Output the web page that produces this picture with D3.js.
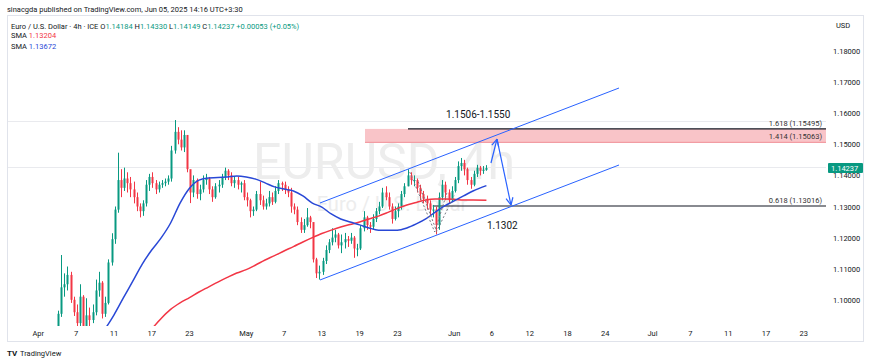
<!DOCTYPE html>
<html>
<head>
<meta charset="utf-8">
<script src="https://cdn.jsdelivr.net/npm/d3@7"></script>
<style>
  body { margin: 0; background: #fff; }
  svg { display: block; font-family: Roboto, "Liberation Sans", sans-serif; }
</style>
</head>
<body>
<svg id="chart" width="870" height="363"></svg>
<script>
// Preis-Ticks der rechten Achse
const priceTicks = [1.10, 1.11, 1.12, 1.13, 1.14, 1.15, 1.16, 1.17, 1.18];

// Zeitachse in Handelstagen ab 1. April
const timeTickDays = [0, 4, 8, 12, 16, 22, 26, 30, 34, 38, 44, 48, 52, 56, 60, 65, 69, 73, 77, 81];
const timeTickLabels = ["Apr", "7", "11", "17", "23", "May", "7", "13", "19", "23", "Jun", "6", "12", "18", "24", "Jul", "7", "11", "17", "23"];

// Kerzen (8h): pro Handelstag drei Kerzen [close, high, low], open = vorheriger close
const firstOpen = 1.0850;
const candleDays = [2, 3, 4, 5, 6, 7, 8, 9, 10, 11, 12, 13, 14, 15, 16, 17, 18, 19, 20, 21, 22, 23, 24,
  25, 26, 27, 28, 29, 30, 31, 32, 33, 34, 35, 36, 37, 38, 39, 40, 41, 42, 43, 44, 45, 46, 47];
const candleBars = [
  [[1.0955, 1.0965, 1.0845], [1.1040, 1.1144, 1.0945], [1.1050, 1.1085, 1.1010]],
  [[1.1080, 1.1107, 1.1030], [1.1000, 1.1090, 1.0990], [1.0960, 1.1010, 1.0948]],
  [[1.0925, 1.0985, 1.0880], [1.1010, 1.1050, 1.0915], [1.0915, 1.1015, 1.0900]],
  [[1.0950, 1.1005, 1.0905], [1.0935, 1.0975, 1.0895], [1.0960, 1.0985, 1.0925]],
  [[1.1030, 1.1065, 1.0950], [1.1055, 1.1090, 1.1010], [1.0955, 1.1060, 1.0940]],
  [[1.0990, 1.1010, 1.0945], [1.1120, 1.1130, 1.0985], [1.1195, 1.1214, 1.1110]],
  [[1.1290, 1.1300, 1.1180], [1.1385, 1.1473, 1.1280], [1.1360, 1.1420, 1.1330]],
  [[1.1390, 1.1425, 1.1350], [1.1375, 1.1410, 1.1345], [1.1355, 1.1395, 1.1330]],
  [[1.1330, 1.1380, 1.1310], [1.1300, 1.1345, 1.1285], [1.1285, 1.1310, 1.1265]],
  [[1.1310, 1.1320, 1.1270], [1.1370, 1.1385, 1.1300], [1.1395, 1.1405, 1.1350]],
  [[1.1375, 1.1410, 1.1360], [1.1355, 1.1385, 1.1340], [1.1370, 1.1380, 1.1345]],
  [[1.1375, 1.1385, 1.1360], [1.1380, 1.1390, 1.1365], [1.1390, 1.1400, 1.1370]],
  [[1.1480, 1.1495, 1.1380], [1.1540, 1.1578, 1.1470], [1.1515, 1.1555, 1.1500]],
  [[1.1490, 1.1545, 1.1480], [1.1530, 1.1545, 1.1475], [1.1420, 1.1530, 1.1410]],
  [[1.1345, 1.1410, 1.1311], [1.1385, 1.1400, 1.1330], [1.1340, 1.1390, 1.1325]],
  [[1.1355, 1.1370, 1.1320], [1.1385, 1.1400, 1.1345], [1.1390, 1.1405, 1.1370]],
  [[1.1355, 1.1395, 1.1340], [1.1330, 1.1365, 1.1315], [1.1365, 1.1375, 1.1325]],
  [[1.1370, 1.1385, 1.1345], [1.1395, 1.1405, 1.1360], [1.1415, 1.1425, 1.1385]],
  [[1.1400, 1.1420, 1.1385], [1.1375, 1.1410, 1.1365], [1.1385, 1.1395, 1.1360]],
  [[1.1370, 1.1395, 1.1355], [1.1375, 1.1380, 1.1345], [1.1330, 1.1385, 1.1320]],
  [[1.1320, 1.1345, 1.1300], [1.1285, 1.1325, 1.1265], [1.1290, 1.1300, 1.1270]],
  [[1.1340, 1.1350, 1.1285], [1.1320, 1.1380, 1.1305], [1.1300, 1.1335, 1.1290]],
  [[1.1310, 1.1325, 1.1290], [1.1330, 1.1350, 1.1300], [1.1315, 1.1345, 1.1305]],
  [[1.1350, 1.1365, 1.1310], [1.1375, 1.1385, 1.1340], [1.1370, 1.1380, 1.1350]],
  [[1.1355, 1.1380, 1.1340], [1.1345, 1.1365, 1.1330], [1.1300, 1.1360, 1.1280]],
  [[1.1290, 1.1310, 1.1275], [1.1250, 1.1300, 1.1240], [1.1225, 1.1265, 1.1215]],
  [[1.1240, 1.1260, 1.1215], [1.1265, 1.1295, 1.1235], [1.1250, 1.1270, 1.1230]],
  [[1.1130, 1.1240, 1.1120], [1.1085, 1.1135, 1.1070], [1.1090, 1.1110, 1.1065]],
  [[1.1125, 1.1135, 1.1080], [1.1160, 1.1175, 1.1115], [1.1185, 1.1195, 1.1150]],
  [[1.1200, 1.1230, 1.1175], [1.1210, 1.1225, 1.1185], [1.1175, 1.1215, 1.1165]],
  [[1.1185, 1.1210, 1.1150], [1.1195, 1.1215, 1.1165], [1.1190, 1.1205, 1.1170]],
  [[1.1200, 1.1215, 1.1180], [1.1165, 1.1205, 1.1135], [1.1165, 1.1180, 1.1140]],
  [[1.1230, 1.1240, 1.1160], [1.1265, 1.1285, 1.1220], [1.1240, 1.1270, 1.1225]],
  [[1.1235, 1.1250, 1.1215], [1.1260, 1.1275, 1.1225], [1.1285, 1.1295, 1.1250]],
  [[1.1300, 1.1315, 1.1275], [1.1345, 1.1360, 1.1295], [1.1330, 1.1365, 1.1320]],
  [[1.1300, 1.1345, 1.1290], [1.1260, 1.1310, 1.1245], [1.1285, 1.1300, 1.1255]],
  [[1.1300, 1.1310, 1.1265], [1.1340, 1.1350, 1.1290], [1.1365, 1.1375, 1.1330]],
  [[1.1400, 1.1420, 1.1365], [1.1385, 1.1410, 1.1370], [1.1385, 1.1400, 1.1365]],
  [[1.1360, 1.1390, 1.1345], [1.1340, 1.1370, 1.1320], [1.1325, 1.1350, 1.1310]],
  [[1.1310, 1.1335, 1.1290], [1.1290, 1.1320, 1.1270], [1.1290, 1.1305, 1.1265]],
  [[1.1240, 1.1300, 1.1210], [1.1330, 1.1345, 1.1225], [1.1370, 1.1385, 1.1320]],
  [[1.1345, 1.1380, 1.1320], [1.1320, 1.1355, 1.1310], [1.1350, 1.1365, 1.1315]],
  [[1.1385, 1.1395, 1.1345], [1.1430, 1.1445, 1.1375], [1.1440, 1.1456, 1.1415]],
  [[1.1420, 1.1450, 1.1400], [1.1385, 1.1425, 1.1370], [1.1370, 1.1395, 1.1357]],
  [[1.1405, 1.1415, 1.1365], [1.1425, 1.1434, 1.1395], [1.1415, 1.1430, 1.1400]],
  [[1.1418, 1.1430, 1.1405], [1.14237, 1.14330, 1.14149]]
];

// SMA-Werte (rot, langsam) je Handelstag
const smaSlowDays = [12, 13, 14, 15, 16, 17, 18, 19, 20, 21, 22, 23, 24, 25, 26, 27, 28, 29, 30,
  31, 32, 33, 34, 35, 36, 37, 38, 39, 40, 41, 42, 43, 44, 45, 46, 47.42];
const smaSlow = [1.0906, 1.0940, 1.0969, 1.0990, 1.1007, 1.1025, 1.1041, 1.1057, 1.1072, 1.1086,
  1.1097, 1.1112, 1.1128, 1.1142, 1.1157, 1.1171, 1.1186, 1.1200, 1.1213, 1.1224, 1.1234, 1.1242,
  1.1250, 1.1260, 1.1269, 1.1281, 1.1294, 1.1305, 1.1313, 1.1321, 1.1324, 1.1324, 1.1323, 1.1321,
  1.1321, 1.13204];

// SMA-Werte (blau, schnell) je Handelstag
const smaFastDays = [7, 8, 9, 10, 11, 12, 13, 14, 15, 16, 17, 18, 19, 20, 21, 22, 23, 24, 25, 26,
  27, 28, 29, 30, 31, 32, 33, 34, 35, 36, 37, 38, 39, 40, 41, 42, 43, 44, 45, 46, 47.42];
const smaFast = [1.0903, 1.0951, 1.1006, 1.1060, 1.1115, 1.1160, 1.1199, 1.1247, 1.1311, 1.1359,
  1.1385, 1.1392, 1.1393, 1.1395, 1.1398, 1.1395, 1.1388, 1.1376, 1.1363, 1.1356, 1.1350, 1.1334,
  1.1311, 1.1298, 1.1276, 1.1260, 1.1250, 1.1241, 1.1231, 1.1224, 1.1224, 1.1224, 1.1231, 1.1244,
  1.1260, 1.1282, 1.1302, 1.1318, 1.1334, 1.1350, 1.13672];

// Zeichnungen: [Handelstag, Preis]
const channelUpper = [[29.81, 1.13113], [61.45, 1.16810]];
const channelLower = [[29.81, 1.10637], [61.45, 1.14334]];
const arrowUp = [[47.90, 1.14399], [48.54, 1.15170]];
const arrowDown = [[48.54, 1.15170], [50.02, 1.13048]];
const dottedA = [[39.3, 1.1411], [41.95, 1.1218], [43.3, 1.1350]];
const dottedB = [[40.2, 1.1380], [42.15, 1.1220], [44.0, 1.1335]];
const fibLevels = [
  { label: "1.618 (1.15495)", price: 1.15495, from: 39.12 },
  { label: "1.414 (1.15063)", price: 1.15063, from: null },
  { label: "0.618 (1.13016)", price: 1.13016, from: 41.74 }
];
const targetZone = { from: 34.57, top: 1.15495, bottom: 1.15063 };
const faintLevels = [1.15749, 1.14286];
const lastPrice = 1.14237;

const svg = d3.select("#chart");
const plot = { left: 8, right: 826, top: 15, bottom: 326 };

const x = d3.scaleLinear().domain([0, 81]).range([38.3, 803.75]);
const y = d3.scaleLinear().domain([1.10, 1.18]).range([299.8, 51]);

const up = "#089981", down = "#f23645";

// Clip für den Plotbereich
svg.append("defs").append("clipPath").attr("id", "clip")
  .append("rect")
  .attr("x", plot.left).attr("y", plot.top)
  .attr("width", plot.right - plot.left).attr("height", plot.bottom - plot.top);

// Rahmen
svg.append("rect")
  .attr("x", 7.5).attr("y", 15.5).attr("width", 856).attr("height", 326)
  .attr("fill", "none").attr("stroke", "#e0e3eb");

const g = svg.append("g").attr("clip-path", "url(#clip)");

// schwache Linien
g.selectAll(".faint").data(faintLevels).enter().append("line")
  .attr("x1", plot.left).attr("x2", plot.right)
  .attr("y1", d => Math.round(y(d)) + 0.5).attr("y2", d => Math.round(y(d)) + 0.5)
  .attr("stroke", "#e9eaee").attr("stroke-width", 1);

// Wasserzeichen
g.append("text").attr("x", 384).attr("y", 179).attr("text-anchor", "middle")
  .attr("font-size", 50).attr("fill", "#ededed").text("EURUSD, 4h");
g.append("text").attr("x", 392).attr("y", 211).attr("text-anchor", "middle")
  .attr("font-size", 20).attr("fill", "#ededed").text("Euro / U.S. Dollar");

// Zielzone
g.append("rect")
  .attr("x", x(targetZone.from)).attr("y", y(targetZone.top))
  .attr("width", plot.right - x(targetZone.from))
  .attr("height", y(targetZone.bottom) - y(targetZone.top))
  .attr("fill", "#f9c4c8");
g.append("line")
  .attr("x1", x(targetZone.from)).attr("x2", plot.right)
  .attr("y1", y(targetZone.bottom)).attr("y2", y(targetZone.bottom))
  .attr("stroke", "#f08c94").attr("stroke-width", 1);

// Fibonacci-Linien
fibLevels.filter(f => f.from !== null).forEach(f => {
  g.append("line")
    .attr("x1", x(f.from)).attr("x2", plot.right)
    .attr("y1", y(f.price)).attr("y2", y(f.price))
    .attr("stroke", "#131722").attr("stroke-width", 1.2);
});
fibLevels.forEach(f => {
  g.append("text")
    .attr("x", 822).attr("y", y(f.price) - 3)
    .attr("text-anchor", "end").attr("font-size", 7.5).attr("fill", "#333")
    .text(f.label);
});

// Kerzen aufbauen
const bars = [];
let prevClose = firstOpen;
candleDays.forEach((td, i) => {
  candleBars[i].forEach((b, k) => {
    bars.push({ t: td + (k + 0.25) / 3, o: prevClose, c: b[0], h: b[1], l: b[2] });
    prevClose = b[0];
  });
});

const candle = g.append("g").selectAll("g").data(bars).enter().append("g");
candle.append("line")
  .attr("x1", d => Math.round(x(d.t)) + 0.5).attr("x2", d => Math.round(x(d.t)) + 0.5)
  .attr("y1", d => y(d.h)).attr("y2", d => y(d.l))
  .attr("stroke", d => d.c >= d.o ? up : down).attr("stroke-width", 1);
candle.append("rect")
  .attr("x", d => Math.round(x(d.t)) - 0.5).attr("width", 2)
  .attr("y", d => y(Math.max(d.o, d.c)))
  .attr("height", d => Math.max(1, Math.abs(y(d.o) - y(d.c))))
  .attr("fill", d => d.c >= d.o ? up : down);

// SMAs
const smaLine = d3.line().curve(d3.curveMonotoneX).x(d => x(d[0])).y(d => y(d[1]));
g.append("path").datum(d3.zip(smaSlowDays, smaSlow)).attr("d", smaLine)
  .attr("fill", "none").attr("stroke", "#f23645").attr("stroke-width", 1.5);
g.append("path").datum(d3.zip(smaFastDays, smaFast)).attr("d", smaLine)
  .attr("fill", "none").attr("stroke", "#2948d6").attr("stroke-width", 1.5);

// Kanal
const straight = d3.line().x(d => x(d[0])).y(d => y(d[1]));
[channelUpper, channelLower].forEach(c => {
  g.append("path").datum(c).attr("d", straight)
    .attr("fill", "none").attr("stroke", "#2962ff").attr("stroke-width", 1);
});

// gestrichelte V-Linien
[dottedA, dottedB].forEach(c => {
  g.append("path").datum(c).attr("d", straight)
    .attr("fill", "none").attr("stroke", "#787b86").attr("stroke-width", 1)
    .attr("stroke-dasharray", "2,2");
});

// Pfeile
function arrow(pts) {
  g.append("path").datum(pts).attr("d", straight)
    .attr("fill", "none").attr("stroke", "#2962ff").attr("stroke-width", 1.2);
  const [x1, y1] = [x(pts[0][0]), y(pts[0][1])];
  const [x2, y2] = [x(pts[1][0]), y(pts[1][1])];
  const a = Math.atan2(y2 - y1, x2 - x1);
  const len = 8;
  [a + Math.PI - 0.45, a + Math.PI + 0.45].forEach(b => {
    g.append("line")
      .attr("x1", x2).attr("y1", y2)
      .attr("x2", x2 + len * Math.cos(b)).attr("y2", y2 + len * Math.sin(b))
      .attr("stroke", "#2962ff").attr("stroke-width", 1.2);
  });
}
arrow(arrowUp);
arrow(arrowDown);

// Beschriftungen
g.append("text").attr("x", x(46.55)).attr("y", y(1.1585)).attr("text-anchor", "middle")
  .attr("font-size", 10).attr("fill", "#131722").text("1.1506-1.1550");
g.append("text").attr("x", x(49.1)).attr("y", y(1.1228)).attr("text-anchor", "middle")
  .attr("font-size", 10).attr("fill", "#131722").text("1.1302");

// Preisachse
svg.append("g").selectAll("text").data(priceTicks).enter().append("text")
  .attr("x", 833).attr("y", d => y(d) + 3)
  .attr("font-size", 7.5).attr("fill", "#131722")
  .text(d => d.toFixed(5));
svg.append("text").attr("x", 836).attr("y", 28).attr("font-size", 7.5).attr("fill", "#131722").text("USD");

// Letzter Kurs
svg.append("rect").attr("x", 828).attr("y", y(lastPrice) - 5).attr("width", 35).attr("height", 10)
  .attr("fill", up).attr("rx", 1);
svg.append("text").attr("x", 831).attr("y", y(lastPrice) + 3)
  .attr("font-size", 7.5).attr("fill", "#fff").text(lastPrice.toFixed(5));

// Zeitachse
svg.append("g").selectAll("text").data(timeTickDays).enter().append("text")
  .attr("x", d => x(d)).attr("y", 336).attr("text-anchor", "middle")
  .attr("font-size", 7.5).attr("fill", "#131722")
  .text((d, i) => timeTickLabels[i]);

// Kopfzeile
svg.append("text").attr("x", 7).attr("y", 12).attr("font-size", 7.5).attr("fill", "#131722")
  .text("sinacgda published on TradingView.com, Jun 05, 2025 14:16 UTC+3:30");
const info = svg.append("text").attr("x", 11).attr("y", 28.5).attr("font-size", 7.5).attr("fill", "#131722");
info.append("tspan").text("Euro / U.S. Dollar · 4h · ICE  O");
info.append("tspan").attr("fill", up).text("1.14184");
info.append("tspan").text(" H");
info.append("tspan").attr("fill", up).text("1.14330");
info.append("tspan").text(" L");
info.append("tspan").attr("fill", up).text("1.14149");
info.append("tspan").text(" C");
info.append("tspan").attr("fill", up).text("1.14237 +0.00053 (+0.05%)");

const sma1 = svg.append("text").attr("x", 11).attr("y", 38).attr("font-size", 7.5).attr("fill", "#131722");
sma1.append("tspan").text("SMA ");
sma1.append("tspan").attr("fill", "#f23645").text("1.13204");
const sma2 = svg.append("text").attr("x", 11).attr("y", 48.5).attr("font-size", 7.5).attr("fill", "#131722");
sma2.append("tspan").text("SMA ");
sma2.append("tspan").attr("fill", "#2948d6").text("1.13672");

// Logo unten
svg.append("text").attr("x", 7).attr("y", 356).attr("font-size", 8).attr("font-weight", "bold")
  .attr("fill", "#131722").text("TV");
svg.append("text").attr("x", 20).attr("y", 356).attr("font-size", 7.5).attr("fill", "#131722")
  .text("TradingView");
</script>
</body>
</html>
